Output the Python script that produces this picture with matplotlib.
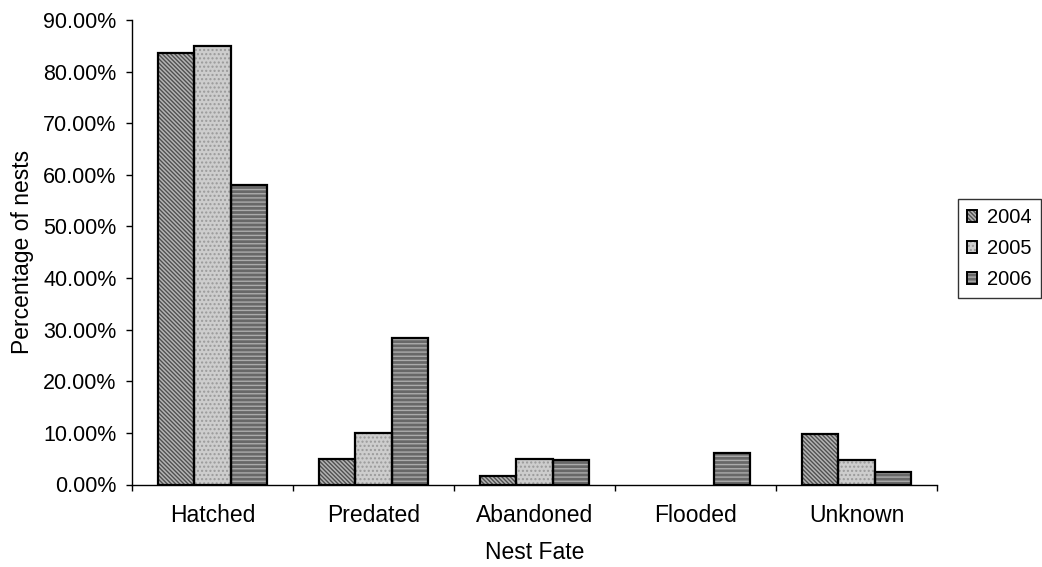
import matplotlib.pyplot as plt
import numpy as np
from matplotlib.patches import Patch

plt.rcParams['font.family'] = ['Liberation Sans', 'DejaVu Sans']
plt.rcParams['hatch.linewidth'] = 1.0

categories = ['Hatched', 'Predated', 'Abandoned', 'Flooded', 'Unknown']
years = ['2004', '2005', '2006']
pct_2004 = [83.6, 4.9, 1.6, 0.0, 9.8]
pct_2005 = [85.0, 10.0, 5.0, 0.0, 4.7]
pct_2006 = [58.0, 28.4, 4.8, 6.2, 2.4]
yticks = [0, 10, 20, 30, 40, 50, 60, 70, 80, 90]

# face, hatch colour, hatch
styles = [('#b4b4b4', '#505050', '\\\\\\\\\\\\\\\\'),
          ('#cdcdcd', '#9a9a9a', '....'),
          ('#686868', '#ababab', '----')]

fig = plt.figure(figsize=(10.42, 5.67), dpi=100)
ax = fig.add_axes([132 / 1042, 1 - 484.5 / 567, 805 / 1042, 464.5 / 567])

x = np.arange(len(categories))
w = 0.224
handles = []
for i, (vals, (fc, hc, hatch)) in enumerate(zip([pct_2004, pct_2005, pct_2006], styles)):
    pos = x + (i - 1) * w
    # no outline on empty bars
    lw = [1.6 if v > 0 else 0 for v in vals]
    ax.bar(pos, vals, w, color=fc, edgecolor=hc, hatch=hatch, linewidth=0, zorder=2)
    ax.bar(pos, vals, w, fill=False, edgecolor='black', linewidth=lw, zorder=3)
    handles.append((Patch(facecolor=fc, edgecolor=hc, hatch=hatch, linewidth=0),
                    Patch(fill=False, edgecolor='black', linewidth=1.4)))

ax.set_xlim(-0.5, len(categories) - 0.5)
ax.set_ylim(0, 90)
ax.set_yticks(yticks)
ax.set_yticklabels(['%.2f%%' % v for v in yticks], fontsize=15.5)
ax.set_xticks(np.arange(-0.5, len(categories), 1.0))
ax.set_xticklabels([])
ax.set_xticks(x, minor=True)
ax.set_xticklabels(categories, minor=True, fontsize=16.5)
ax.tick_params(axis='x', which='minor', length=0, pad=14)
ax.tick_params(axis='both', which='major', direction='out', length=4, width=1)
ax.tick_params(axis='y', pad=7)
for s in ['top', 'right']:
    ax.spines[s].set_visible(False)
ax.spines['left'].set_linewidth(1)
ax.spines['bottom'].set_linewidth(1)
ax.spines['bottom'].set_zorder(4)

ax.set_xlabel('Nest Fate', fontsize=16.5, labelpad=10)
ax.set_ylabel('Percentage of nests', fontsize=16.5, labelpad=7)

leg = fig.legend(handles, years, loc='upper left', bbox_to_anchor=(958 / 1042, 1 - 199 / 567),
                 fontsize=14.5, frameon=True, fancybox=False, edgecolor='black',
                 handlelength=0.5, handleheight=0.5, handletextpad=0.5, borderpad=0.45,
                 labelspacing=0.6, borderaxespad=0)
leg.get_frame().set_linewidth(1)

fig.savefig('out.png', dpi=100)
